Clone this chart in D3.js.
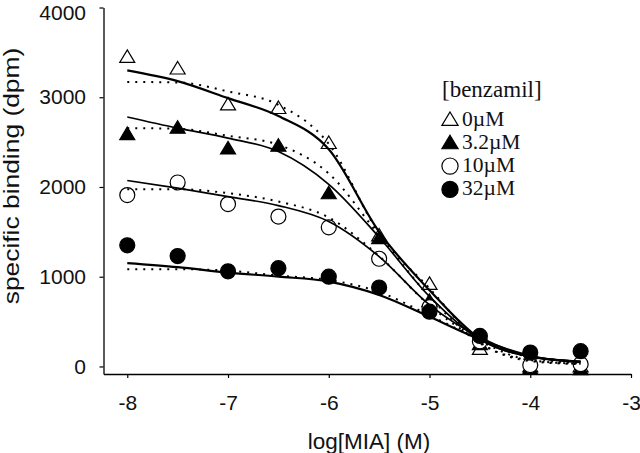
<!DOCTYPE html>
<html>
<head>
<meta charset="utf-8">
<script src="https://cdn.jsdelivr.net/npm/d3@7"></script>
<style>
  body { margin: 0; background: #fff; }
  svg { display: block; }
</style>
</head>
<body>
<div id="chart"></div>
<script>
// log concentrations of MIA
const logMIA = [-8, -7.5, -7, -6.5, -6, -5.5, -5, -4.5, -4, -3.5];

// measured specific binding (dpm), one array per benzamil concentration
const bind0 = [3450, 3320, 2920, 2880, 2490, 1460, 920, 195, 0, 0];
const bind3 = [2590, 2660, 2430, 2460, 1930, 1430, 730, 250, -25, -30];
const bind10 = [1910, 2050, 1810, 1670, 1550, 1200, 660, 280, 15, 25];
const bind32 = [1350, 1230, 1060, 1095, 1000, 880, 610, 340, 155, 170];

// fitted curves (solid and dotted)
const fit0 = [3300, 3180, 2990, 2790, 2420, 1500, 850, 310, 110, 55];
const fit3 = [2780, 2656, 2545, 2395, 2030, 1440, 780, 300, 110, 55];
const fit10 = [2072, 1987, 1893, 1793, 1615, 1224, 686, 325, 115, 55];
const fit32 = [1151, 1106, 1046, 1001, 946, 797, 555, 303, 117, 47];

const dot0 = [3170, 3165, 3065, 2916, 2480, 1480, 870, 270, 70, 30];
const dot3 = [2656, 2648, 2570, 2470, 2150, 1460, 780, 260, 60, 25];
const dot10 = [1976, 1976, 1931, 1838, 1660, 1230, 680, 290, 70, 30];
const dot32 = [1084, 1084, 1068, 1012, 964, 830, 570, 300, 100, 40];

const legendLabels = ["0\u00b5M", "3.2\u00b5M", "10\u00b5M", "32\u00b5M"];
const xTicks = [-8, -7, -6, -5, -4, -3];
const yTicks = [0, 1000, 2000, 3000, 4000];

const width = 640, height = 453;

const svg = d3.select("#chart").append("svg")
  .attr("width", width)
  .attr("height", height);

const x = d3.scaleLinear().domain([-8.236, -3]).range([103.5, 631]);
const y = d3.scaleLinear().domain([-84, 4000]).range([374, 7.5]);

// axes
const xAxis = svg.append("g")
  .attr("transform", "translate(0,374)")
  .call(d3.axisBottom(x).tickValues(xTicks).tickSize(4).tickSizeOuter(0).tickPadding(17)
    .tickFormat(d => d3.format("d")(d).replace("\u2212", "-")));

const yAxis = svg.append("g")
  .attr("transform", "translate(103.5,0)")
  .call(d3.axisLeft(y).tickValues(yTicks).tickSize(4).tickSizeOuter(0).tickPadding(13.5)
    .tickFormat(d3.format("d")));

[xAxis, yAxis].forEach(a => {
  a.select(".domain").attr("stroke-width", 1.3);
  a.selectAll(".tick line").attr("stroke-width", 1.2);
  a.selectAll("text")
    .attr("font-family", "Liberation Sans, Arial, sans-serif")
    .attr("font-size", 21)
    .attr("fill", "#111");
});
// keep the top label inside the picture
yAxis.selectAll(".tick text").filter(d => d === 4000).attr("y", 5);

svg.append("text")
  .attr("x", 369)
  .attr("y", 449)
  .attr("text-anchor", "middle")
  .attr("font-family", "Liberation Sans, Arial, sans-serif")
  .attr("font-size", 22.5)
  .attr("fill", "#111")
  .text("log[MIA] (M)");

svg.append("text")
  .attr("transform", "translate(19,176) rotate(-90) scale(1.2,1)")
  .attr("text-anchor", "middle")
  .attr("font-family", "Liberation Sans, Arial, sans-serif")
  .attr("font-size", 22)
  .attr("fill", "#111")
  .text("specific binding (dpm)");

// markers
const triPath = "M0,-7L7.5,5.5L-7.5,5.5Z";
const series = [
  { data: bind0, shape: "tri", fill: "#fff" },
  { data: bind3, shape: "tri", fill: "#000" },
  { data: bind10, shape: "circle", fill: "#fff" },
  { data: bind32, shape: "circle", fill: "#000" }
];

function drawMarker(g, shape, fill, r) {
  if (shape === "tri") {
    return g.append("path").attr("d", triPath)
      .attr("transform", `scale(${r})`)
      .attr("fill", fill).attr("stroke", "#000").attr("stroke-width", 1.2 / r);
  }
  return g.append("circle").attr("r", 7.5 * r)
    .attr("fill", fill).attr("stroke", "#000").attr("stroke-width", 1.2);
}

series.forEach(s => {
  svg.append("g").selectAll("g")
    .data(logMIA.map((v, i) => [v, s.data[i]]))
    .join("g")
      .attr("transform", d => `translate(${x(d[0])},${y(d[1])})`)
      .each(function () { drawMarker(d3.select(this), s.shape, s.fill, 1); });
});

// fitted curves
const line = d3.line()
  .x(d => x(d[0]))
  .y(d => y(d[1]))
  .curve(d3.curveMonotoneX);

[dot0, dot3, dot10, dot32].forEach(f => {
  svg.append("path")
    .attr("d", line(logMIA.map((v, i) => [v, f[i]])))
    .attr("fill", "none")
    .attr("stroke", "#000")
    .attr("stroke-width", 2)
    .attr("stroke-dasharray", "2,6");
});

[fit0, fit3, fit10, fit32].forEach((f, k) => {
  svg.append("path")
    .attr("d", line(logMIA.map((v, i) => [v, f[i]])))
    .attr("fill", "none")
    .attr("stroke", "#000")
    .attr("stroke-width", k === 0 || k === 3 ? 2.2 : 1.7);
});

// legend
const legend = svg.append("g").attr("transform", "translate(442,0)");
legend.append("text")
  .attr("x", 0)
  .attr("y", 97)
  .attr("font-family", "Liberation Serif, Times New Roman, serif")
  .attr("font-size", 23)
  .attr("fill", "#111")
  .text("[benzamil]");

legendLabels.forEach((lab, i) => {
  const cy = 119.5 + i * 23.3;
  const g = legend.append("g").attr("transform", `translate(8,${cy})`);
  drawMarker(g, series[i].shape, series[i].fill, 1.08);
  legend.append("text")
    .attr("x", 20)
    .attr("y", cy + 6)
    .attr("font-family", "Liberation Serif, Times New Roman, serif")
    .attr("font-size", 21.5)
    .attr("fill", "#111")
    .text(lab);
});
</script>
</body>
</html>
